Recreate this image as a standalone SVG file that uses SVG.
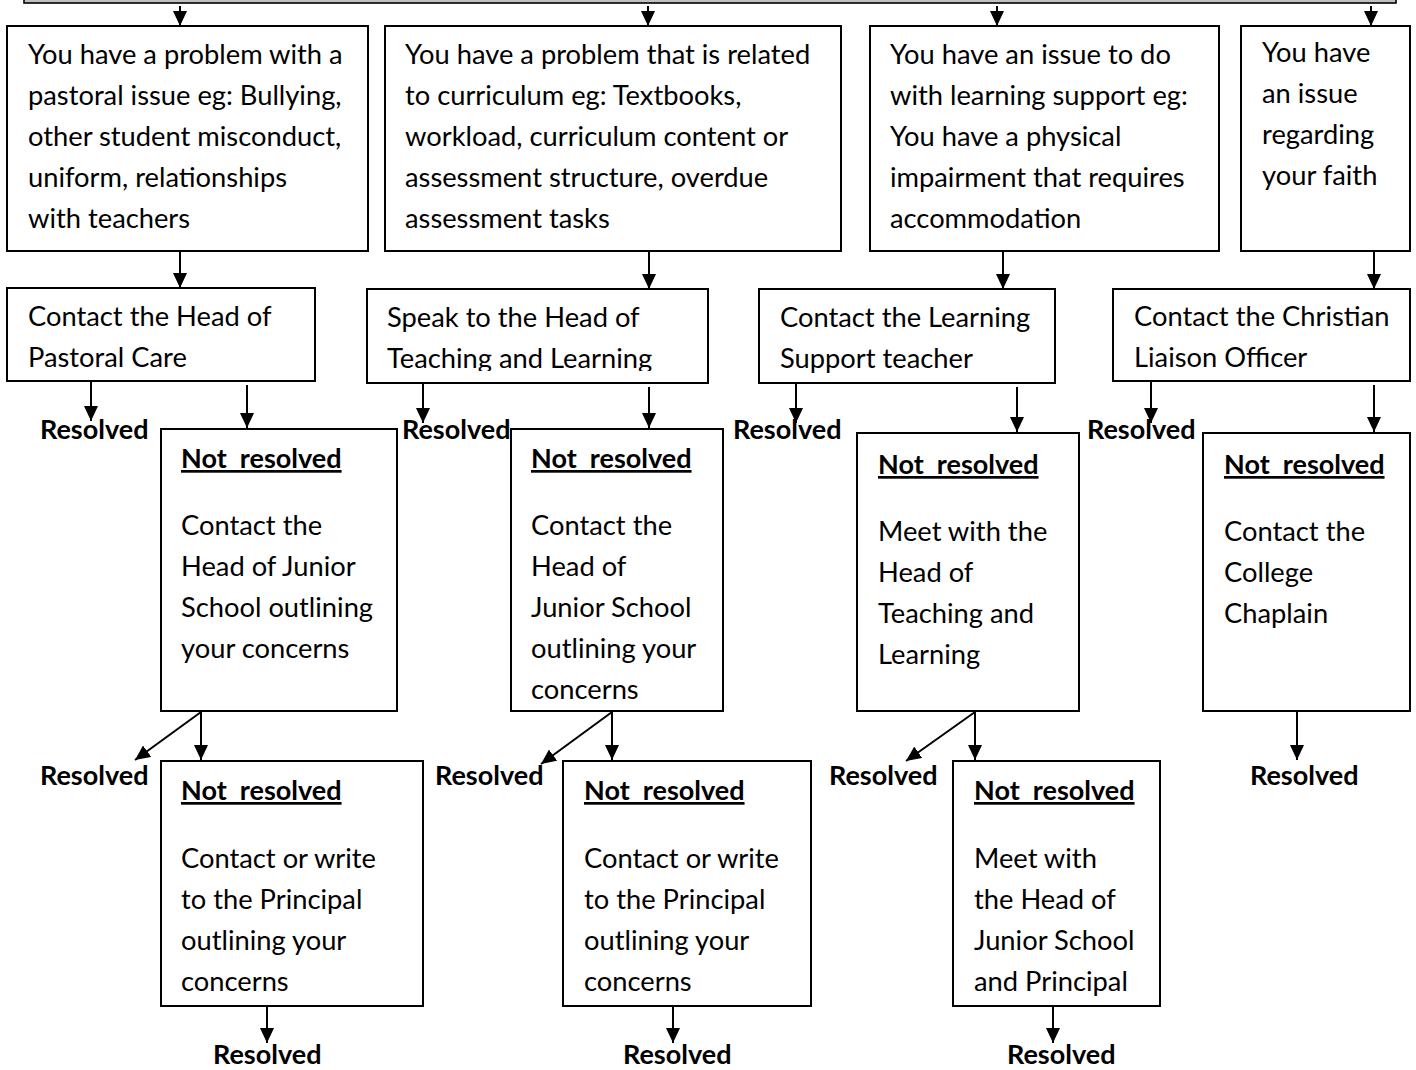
<svg xmlns="http://www.w3.org/2000/svg" width="1416" height="1070" viewBox="0 0 1416 1070">
<style>
.box{fill:#fff;stroke:#000;stroke-width:2}
.t{font-family:Lato,"Liberation Sans",sans-serif;font-size:27.3px;fill:#000}
.b{font-family:Lato,"Liberation Sans",sans-serif;font-size:27px;font-weight:bold;fill:#000}
.u{text-decoration:underline}
.c line{stroke:#000;stroke-width:2;marker-end:url(#ah)}
</style>
<defs>
<marker id="ah" markerUnits="userSpaceOnUse" markerWidth="15" markerHeight="14" refX="15" refY="7" orient="auto">
<path d="M0,0 L15,7 L0,14 z" fill="#000"/>
</marker>
<clipPath id="clipB2"><rect x="367" y="289" width="341" height="82"/></clipPath>
</defs>
<rect x="0" y="0" width="1416" height="1070" fill="#fff"/>
<g id="banner"><rect x="24" y="-10" width="1372" height="13" fill="#c0c0c0" stroke="#000" stroke-width="1.6"/></g>

<g id="boxA"><rect class="box" x="7" y="26" width="361" height="225"/>
<text class="t" x="28" y="64">You have a problem with a</text>
<text class="t" x="28" y="105">pastoral issue eg: Bullying,</text>
<text class="t" x="28" y="146">other student misconduct,</text>
<text class="t" x="28" y="187">uniform, relationships</text>
<text class="t" x="28" y="228">with teachers</text></g>
<g id="boxB"><rect class="box" x="385" y="26" width="456" height="225"/>
<text class="t" x="405" y="64">You have a problem that is related</text>
<text class="t" x="405" y="105">to curriculum eg: Textbooks,</text>
<text class="t" x="405" y="146">workload, curriculum content or</text>
<text class="t" x="405" y="187">assessment structure, overdue</text>
<text class="t" x="405" y="228">assessment tasks</text></g>
<g id="boxC"><rect class="box" x="870" y="26" width="349" height="225"/>
<text class="t" x="890" y="64">You have an issue to do</text>
<text class="t" x="890" y="105">with learning support eg:</text>
<text class="t" x="890" y="146">You have a physical</text>
<text class="t" x="890" y="187">impairment that requires</text>
<text class="t" x="890" y="228">accommodation</text></g>
<g id="boxD"><rect class="box" x="1241" y="26" width="169" height="225"/>
<text class="t" x="1262" y="62">You have</text>
<text class="t" x="1262" y="103">an issue</text>
<text class="t" x="1262" y="144">regarding</text>
<text class="t" x="1262" y="185">your faith</text></g>

<g id="boxA2"><rect class="box" x="7" y="288" width="308" height="93"/>
<text class="t" x="28" y="326">Contact the Head of</text>
<text class="t" x="28" y="367">Pastoral Care</text></g>
<g id="boxB2"><rect class="box" x="367" y="289" width="341" height="94"/>
<g clip-path="url(#clipB2)"><text class="t" x="387" y="327">Speak to the Head of</text>
<text class="t" x="387" y="368">Teaching and Learning</text></g></g>
<g id="boxC2"><rect class="box" x="759" y="289" width="296" height="94"/>
<text class="t" x="780" y="327">Contact the Learning</text>
<text class="t" x="780" y="368">Support teacher</text></g>
<g id="boxD2"><rect class="box" x="1113" y="289" width="297" height="92"/>
<text class="t" x="1134" y="326">Contact the Christian</text>
<text class="t" x="1134" y="367">Liaison Officer</text></g>

<g id="res1"><text class="b" x="40" y="439">Resolved</text>
<text class="b" x="402" y="439">Resolved</text>
<text class="b" x="733" y="439">Resolved</text>
<text class="b" x="1087" y="439">Resolved</text></g>

<g id="boxA3"><rect class="box" x="161" y="429" width="236" height="282"/>
<text class="b u" x="181" y="468" xml:space="preserve">Not  resolved</text>
<text class="t" x="181" y="535">Contact the</text>
<text class="t" x="181" y="576">Head of Junior</text>
<text class="t" x="181" y="617">School outlining</text>
<text class="t" x="181" y="658">your concerns</text></g>
<g id="boxB3"><rect class="box" x="511" y="429" width="212" height="282"/>
<text class="b u" x="531" y="468" xml:space="preserve">Not  resolved</text>
<text class="t" x="531" y="535">Contact the</text>
<text class="t" x="531" y="576">Head of</text>
<text class="t" x="531" y="617">Junior School</text>
<text class="t" x="531" y="658">outlining your</text>
<text class="t" x="531" y="699">concerns</text></g>
<g id="boxC3"><rect class="box" x="857" y="433" width="222" height="278"/>
<text class="b u" x="878" y="474" xml:space="preserve">Not  resolved</text>
<text class="t" x="878" y="541">Meet with the</text>
<text class="t" x="878" y="582">Head of</text>
<text class="t" x="878" y="623">Teaching and</text>
<text class="t" x="878" y="664">Learning</text></g>
<g id="boxD3"><rect class="box" x="1203" y="433" width="207" height="278"/>
<text class="b u" x="1224" y="474" xml:space="preserve">Not  resolved</text>
<text class="t" x="1224" y="541">Contact the</text>
<text class="t" x="1224" y="582">College</text>
<text class="t" x="1224" y="623">Chaplain</text></g>

<g id="res2"><text class="b" x="40" y="785">Resolved</text>
<text class="b" x="435" y="785">Resolved</text>
<text class="b" x="829" y="785">Resolved</text>
<text class="b" x="1250" y="785">Resolved</text></g>

<g id="boxA4"><rect class="box" x="161" y="761" width="262" height="245"/>
<text class="b u" x="181" y="800" xml:space="preserve">Not  resolved</text>
<text class="t" x="181" y="868">Contact or write</text>
<text class="t" x="181" y="909">to the Principal</text>
<text class="t" x="181" y="950">outlining your</text>
<text class="t" x="181" y="991">concerns</text></g>
<g id="boxB4"><rect class="box" x="563" y="761" width="248" height="245"/>
<text class="b u" x="584" y="800" xml:space="preserve">Not  resolved</text>
<text class="t" x="584" y="868">Contact or write</text>
<text class="t" x="584" y="909">to the Principal</text>
<text class="t" x="584" y="950">outlining your</text>
<text class="t" x="584" y="991">concerns</text></g>
<g id="boxC4"><rect class="box" x="953" y="761" width="207" height="245"/>
<text class="b u" x="974" y="800" xml:space="preserve">Not  resolved</text>
<text class="t" x="974" y="868">Meet with</text>
<text class="t" x="974" y="909">the Head of</text>
<text class="t" x="974" y="950">Junior School</text>
<text class="t" x="974" y="991">and Principal</text></g>

<g id="res3"><text class="b" x="213" y="1064">Resolved</text>
<text class="b" x="623" y="1064">Resolved</text>
<text class="b" x="1007" y="1064">Resolved</text></g>

<g id="connectors" class="c">
<line x1="180" y1="6" x2="180" y2="26"/>
<line x1="648" y1="6" x2="648" y2="26"/>
<line x1="997" y1="6" x2="997" y2="26"/>
<line x1="1371" y1="6" x2="1371" y2="26"/>
<line x1="180" y1="252" x2="180" y2="288"/>
<line x1="649" y1="252" x2="649" y2="289"/>
<line x1="1003" y1="252" x2="1003" y2="289"/>
<line x1="1374" y1="252" x2="1374" y2="289"/>
<line x1="91" y1="382" x2="91" y2="421"/>
<line x1="247" y1="385" x2="247" y2="428"/>
<line x1="423" y1="384" x2="423" y2="423"/>
<line x1="649" y1="387" x2="649" y2="428"/>
<line x1="796" y1="384" x2="796" y2="423"/>
<line x1="1017" y1="387" x2="1017" y2="432"/>
<line x1="1151" y1="382" x2="1151" y2="423"/>
<line x1="1374" y1="385" x2="1374" y2="432"/>
<line x1="201" y1="712" x2="135" y2="760"/>
<line x1="201" y1="712" x2="201" y2="760"/>
<line x1="612" y1="712" x2="541" y2="764"/>
<line x1="612" y1="712" x2="612" y2="760"/>
<line x1="975" y1="712" x2="906" y2="761"/>
<line x1="975" y1="712" x2="975" y2="760"/>
<line x1="1297" y1="712" x2="1297" y2="760"/>
<line x1="267" y1="1007" x2="267" y2="1043"/>
<line x1="673" y1="1007" x2="673" y2="1043"/>
<line x1="1053" y1="1007" x2="1053" y2="1043"/>
</g>
</svg>
